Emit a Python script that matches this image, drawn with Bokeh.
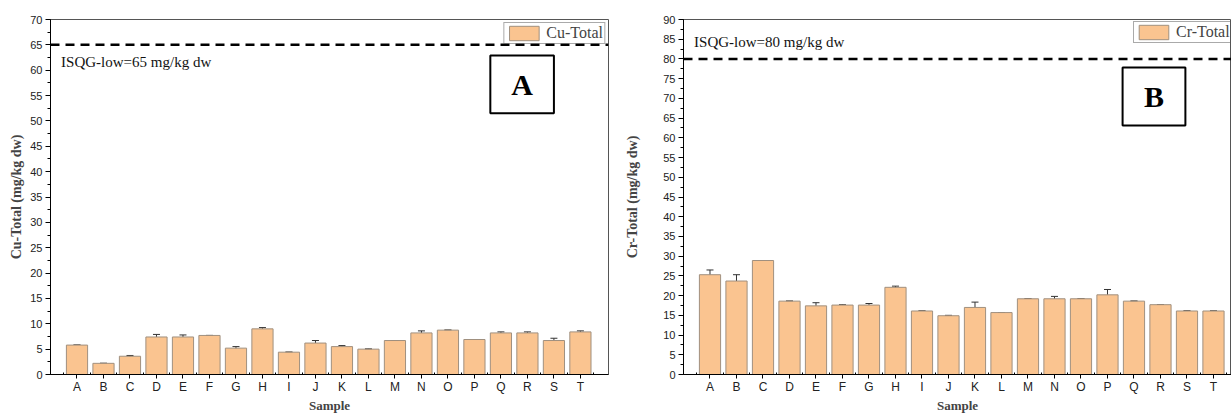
from bokeh.plotting import figure
from bokeh.layouts import row
from bokeh.models import (ColumnDataSource, Whisker, TeeHead, Span, Label, BoxAnnotation,
                          FixedTicker, SingleIntervalTicker, Legend, LegendItem, Range1d)
from bokeh.embed import file_html
from bokeh.resources import INLINE

samples = list("ABCDEFGHIJKLMNOPQRST")
cu_total = [5.8, 2.2, 3.6, 7.4, 7.4, 7.7, 5.2, 9.0, 4.4, 6.2, 5.5, 5.0, 6.7, 8.2, 8.75, 6.9, 8.2, 8.2, 6.7, 8.4]
cu_err = [0, 0, 0.15, 0.5, 0.4, 0, 0.3, 0.25, 0, 0.5, 0.2, 0.05, 0, 0.4, 0, 0, 0.2, 0.2, 0.45, 0.2]
cr_total = [25.3, 23.7, 28.9, 18.6, 17.4, 17.6, 17.6, 22.1, 16.1, 14.9, 17.0, 15.7, 19.2, 19.2, 19.2, 20.2, 18.6, 17.7, 16.1, 16.1]
cr_err = [1.2, 1.6, 0, 0, 0.8, 0.1, 0.4, 0.3, 0, 0.1, 1.35, 0, 0.05, 0.6, 0, 1.35, 0, 0, 0.05, 0]
cu_limit = 65
cr_limit = 80
cu_limit_text = "ISQG-low=65 mg/kg dw"
cr_limit_text = "ISQG-low=80 mg/kg dw"

BAR_FILL = "#FAC490"
BAR_LINE = "#A0907F"
SERIF = "Liberation Serif"
SANS = "Liberation Sans"


def make_panel(values, errs, limit, limit_text, text_y, ylabel, legend_label, ymax,
               letter, box, width, min_left, min_right, x_end, legend_loc, ylabel_standoff):
    xs = list(range(1, len(samples) + 1))
    src = ColumnDataSource(dict(
        x=xs, top=values,
        lower=[v - e for v, e in zip(values, errs)],
        upper=[v + e for v, e in zip(values, errs)],
    ))
    p = figure(width=width, height=416, output_backend="svg", toolbar_location=None,
               x_range=Range1d(0, x_end), y_range=Range1d(0, ymax),
               min_border_left=min_left, min_border_right=min_right,
               min_border_top=19, min_border_bottom=42)
    p.grid.visible = False
    p.outline_line_color = "#555555"
    p.outline_line_width = 1
    p.background_fill_color = "white"
    p.border_fill_color = "white"

    r = p.vbar(x="x", top="top", width=0.8, source=src, fill_color=BAR_FILL,
               line_color=BAR_LINE, line_width=1)
    w = Whisker(base="x", lower="lower", upper="upper", source=src,
                line_color="#333333", line_width=1,
                upper_head=TeeHead(size=7, line_color="#333333", line_width=1),
                lower_head=TeeHead(size=7, line_color="#333333", line_width=1))
    p.add_layout(w)

    p.add_layout(Span(location=limit, dimension="width", line_color="black",
                      line_width=2.5, line_dash="9 6"))
    p.add_layout(Label(x=0.4, y=text_y, text=limit_text, text_font=SERIF,
                       text_font_size="15px", text_color="#111111",
                       text_baseline="middle"))

    bl, br, bb, bt = box
    p.add_layout(BoxAnnotation(left=bl, right=br, bottom=bb, top=bt, fill_alpha=0,
                               line_color="black", line_alpha=1, line_width=2))
    p.add_layout(Label(x=(bl + br) / 2, y=(bb + bt) / 2, text=letter, text_font=SERIF,
                       text_font_size="30px", text_font_style="bold", text_color="black",
                       text_align="center", text_baseline="middle"))

    legend = Legend(items=[LegendItem(label=legend_label, renderers=[r])],
                    location=legend_loc, margin=3, padding=1, spacing=0,
                    glyph_width=37, glyph_height=18, label_standoff=4,
                    label_text_font=SERIF, label_text_font_size="16px",
                    label_height=18,
                    border_line_color="#555555", border_line_width=1,
                    background_fill_alpha=0)
    p.add_layout(legend, "center")

    xa = p.xaxis[0]
    xa.ticker = FixedTicker(ticks=xs, minor_ticks=[x + 0.5 for x in range(0, len(samples) + 1)])
    xa.major_label_overrides = {x: s for x, s in zip(xs, samples)}
    xa.axis_label = "Sample"
    xa.axis_label_text_font = SERIF
    xa.axis_label_text_font_style = "bold"
    xa.axis_label_text_font_size = "13px"
    xa.axis_label_standoff = 1
    xa.major_label_text_font = SANS
    xa.major_label_text_font_size = "12px"
    xa.major_label_text_color = "#222222"
    xa.major_label_standoff = 1
    xa.major_tick_out = 4
    xa.major_tick_in = 0
    xa.minor_tick_out = 0
    xa.minor_tick_in = 2
    xa.axis_line_color = "black"

    ya = p.yaxis[0]
    ya.ticker = SingleIntervalTicker(interval=5, num_minor_ticks=2)
    ya.axis_label = ylabel
    ya.axis_label_text_font = SERIF
    ya.axis_label_text_font_style = "bold"
    ya.axis_label_text_font_size = "14px"
    ya.axis_label_standoff = ylabel_standoff
    ya.major_label_text_font = SANS
    ya.major_label_text_font_size = "11px"
    ya.major_label_text_color = "#222222"
    ya.major_label_standoff = 3
    ya.major_tick_out = 5
    ya.major_tick_in = 0
    ya.minor_tick_out = 3
    ya.minor_tick_in = 0
    ya.axis_line_color = "black"
    return p


p1 = make_panel(cu_total, cu_err, cu_limit, cu_limit_text, 61.7, "Cu-Total (mg/kg dw)",
                "Cu-Total", 70, "A", (16.6, 19.0, 51.5, 62.9),
                620, 50, 12, 21.06, "top_right", 3)
p2 = make_panel(cr_total, cr_err, cr_limit, cr_limit_text, 84.3, "Cr-Total (mg/kg dw)",
                "Cr-Total", 90, "B", (16.57, 18.94, 63.1, 77.8),
                611, 63, 0, 20.68, (450, 331), 20)

layout = row(p1, p2, spacing=0)
open("out.html", "w").write(file_html(layout, INLINE))
